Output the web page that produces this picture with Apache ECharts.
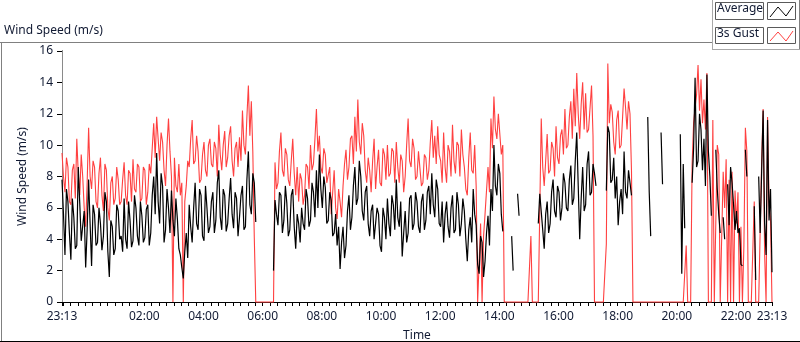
<!DOCTYPE html>
<html>
<head>
<meta charset="utf-8">
<title>Wind Speed (m/s)</title>
<script src="https://cdn.jsdelivr.net/npm/echarts@6/dist/echarts.min.js"></script>
<style>
html, body { margin: 0; padding: 0; background: #fff; }
#main { width: 800px; height: 342px; }
</style>
</head>
<body>
<div id="main"></div>
<script>
// one sample every 3 minutes, starting 23:13 (one row = one hour)
var stepMin = 3;
var startClock = 23 * 60 + 13;

// Average (m/s), null = no data
var average = [
	7.8, 5.6, 3.0, 7.2, 6.4, 4.4, 2.7, 6.6, 5.4, 3.4, 3.6, 8.6, 6.3, 3.9, 4.0, 5.8, 2.2, 4.6, 7.8, 5.0,
	2.3, 6.2, 5.6, 3.6, 3.8, 6.0, 5.0, 3.3, 4.2, 7.0, 6.4, 3.2, 1.6, 5.2, 4.8, 3.0, 3.4, 6.2, 5.8, 4.0,
	4.2, 3.2, 6.6, 4.0, 3.4, 6.4, 5.2, 3.5, 3.9, 6.8, 6.0, 4.2, 3.6, 6.4, 5.5, 3.8, 4.1, 5.9, 6.2, 3.6,
	4.4, 6.8, 8.0, 5.6, 9.5, 6.4, 5.0, 8.2, 7.4, 3.8, 4.6, 7.2, 6.0, 4.4, 7.1, 5.2, 4.2, 6.6, 5.3, 3.4,
	3.0, 2.2, 1.5, 3.2, 4.4, 2.8, 6.2, 4.8, 3.8, 6.0, 7.6, 5.0, 4.6, 7.2, 6.8, 4.2, 3.9, 7.4, 6.0, 4.4,
	4.8, 6.4, 7.0, 4.4, 5.2, 7.6, 8.4, 5.4, 4.6, 7.2, 6.8, 4.5, 5.0, 6.6, 7.9, 5.6, 4.7, 7.0, 6.6, 4.2,
	5.4, 6.8, 7.4, 4.6, 4.8, 7.8, 9.6, 6.2, 5.6, 8.2, 7.6, 5.1, null, null, null, null, null, null, null, null,
	null, null, null, 2.0, 6.5, 5.6, 4.9, 7.0, 6.8, 4.4, 5.2, 7.4, 6.3, 4.2, 4.6, 6.8, 7.2, 4.8, 3.4, 5.6,
	5.0, 3.8, 6.0, 5.0, 4.6, 7.2, 6.6, 4.8, 5.2, 7.6, 7.0, 5.4, 8.4, 6.0, 9.4, 7.2, 6.0, 8.0, 7.3, 5.0,
	5.2, 7.0, 6.5, 4.2, 4.4, 5.6, 3.6, 4.8, 2.1, 3.8, 4.8, 2.8, 3.6, 5.8, 6.8, 4.6, 5.4, 7.4, 8.6, 6.2,
	6.6, 9.0, 8.0, 5.8, 5.2, 7.0, 7.4, 5.0, 4.2, 5.8, 6.2, 4.0, 3.9, 6.0, 5.6, 3.6, 3.2, 6.0, 5.4, 4.0,
	6.6, 5.0, 4.2, 6.8, 6.2, 4.6, 7.8, 5.4, 4.8, 6.4, 2.9, 4.4, 5.8, 3.8, 4.4, 6.6, 6.8, 4.6, 5.0, 7.0,
	6.4, 4.8, 4.4, 6.4, 6.9, 4.6, 5.2, 7.0, 7.4, 5.6, 8.2, 6.2, 5.4, 7.8, 7.2, 5.0, 4.8, 6.4, 3.8, 5.6,
	6.4, 4.8, 4.1, 6.0, 6.8, 4.4, 4.6, 7.0, 6.2, 4.2, 5.0, 6.6, 5.8, 4.0, 2.6, 4.6, 5.4, 3.8, 7.2, 5.6,
	4.9, 2.4, 1.8, 4.2, 3.8, 1.6, 2.6, 4.4, 5.5, 3.6, 7.2, 5.8, 10.0, 7.4, 6.8, 8.8, 8.2, 5.6, 4.5, null,
	null, null, null, null, 4.2, 2.0, null, null, 6.9, 5.5, null, null, null, null, null, null, null, null, null, null,
	null, null, 5.0, 6.9, 6.8, 4.6, 3.4, 5.6, 6.4, 4.4, 5.0, 7.0, 7.8, 5.8, 5.4, 7.4, 7.0, 5.2, 6.0, 8.2,
	7.6, 6.0, 5.8, 7.8, 8.7, 6.2, 6.6, 9.0, 10.8, 7.4, 4.0, 6.6, 8.6, 5.8, 6.2, 8.8, 9.6, 6.8, 7.0, 8.8,
	8.2, 7.4, null, null, null, null, null, null, 7.1, 11.2, 10.8, 7.6, 7.8, 9.2, 6.6, 8.0, 4.9, 6.4, 7.2, 5.6,
	9.6, 7.0, 6.6, 8.4, 7.6, 6.8, null, null, null, null, null, null, null, null, null, null, 11.8, 7.0, 4.2, null,
	null, null, null, null, null, 10.8, 7.5, null, null, null, null, null, null, null, null, null, null, null, 10.7, 1.8,
	8.8, 4.7, null, null, null, null, 7.6, 9.8, 14.3, 8.6, 9.0, 12.0, 11.0, 8.4, 10.4, 7.4, 14.5, 9.6, 8.0, 5.5,
	null, null, 9.7, 7.2, 5.6, 4.4, null, 5.4, 4.0, null, 7.5, 4.9, 8.6, 7.6, 6.2, 4.6, 5.8, 4.4, 4.7, 2.4,
	2.3, null, 9.7, 8.0, null, null, null, null, 6.1, 1.4, null, 8.0, 4.4, 8.3, 12.2, 5.0, 3.0, 11.6, 5.2, 7.2,
	1.9
];

// 3s Gust (m/s)
var gust = [
	9.5, 8.0, 7.0, 9.2, 8.6, 6.4, 6.2, 8.4, 8.8, 6.6, 10.4, 8.2, 6.8, 9.4, 8.0, 6.0, 4.8, 7.6, 11.1, 8.0,
	7.2, 9.0, 8.6, 6.4, 6.0, 8.2, 9.2, 6.8, 5.8, 8.8, 8.4, 6.0, 5.2, 7.6, 8.0, 6.2, 6.6, 8.6, 7.8, 6.2,
	6.4, 7.8, 8.9, 6.8, 6.2, 8.4, 8.2, 6.4, 9.1, 7.2, 7.0, 8.8, 8.6, 6.4, 6.6, 8.6, 8.4, 6.2, 7.0, 8.8,
	8.2, 9.8, 11.4, 9.2, 11.8, 10.4, 9.0, 10.8, 10.2, 8.4, 7.4, 10.0, 11.7, 9.6, 8.0, 0, 9.2, 7.4, 7.0, 8.8,
	6.8, 7.6, 0, 6.4, 7.4, 9.0, 8.6, 10.4, 11.6, 8.8, 9.0, 10.6, 9.6, 7.6, 7.8, 9.4, 10.2, 8.4, 8.0, 10.0,
	10.4, 8.8, 8.6, 10.2, 9.8, 8.0, 11.3, 9.4, 8.4, 10.0, 10.9, 8.6, 9.2, 10.6, 11.2, 9.0, 8.0, 9.8, 10.2, 8.6,
	10.5, 9.0, 12.2, 10.0, 9.4, 11.8, 13.8, 10.6, 12.8, 9.6, 4.1, 0, 0, 0, 0, 0, 0, 0, 0, 0,
	0, 0, 0, 0, 8.9, 7.2, 7.6, 9.6, 10.8, 8.4, 8.0, 9.8, 9.4, 7.8, 7.4, 9.0, 10.4, 8.2, 6.8, 8.6,
	6.4, 8.2, 7.8, 6.2, 6.8, 8.8, 8.6, 7.2, 10.0, 8.4, 8.8, 10.4, 12.3, 9.6, 10.6, 8.6, 8.2, 9.8, 9.4, 7.6,
	7.6, 8.6, 5.6, 7.0, 8.4, 6.0, 5.3, 7.2, 6.4, 5.4, 7.4, 8.8, 9.7, 7.8, 8.6, 10.4, 10.6, 8.8, 11.8, 9.6,
	12.9, 10.2, 9.4, 11.4, 10.6, 8.4, 7.6, 9.2, 8.4, 7.0, 9.0, 10.4, 7.2, 8.6, 9.7, 7.6, 7.4, 9.8, 9.4, 7.8,
	10.0, 8.0, 8.2, 9.8, 9.6, 7.6, 10.2, 8.6, 7.6, 9.4, 9.0, 7.0, 8.0, 10.0, 11.7, 9.0, 8.6, 10.4, 9.8, 7.8,
	8.0, 9.6, 9.7, 7.4, 7.6, 9.4, 9.2, 7.8, 8.4, 10.2, 11.6, 9.2, 10.6, 8.8, 11.2, 9.4, 9.0, 7.6, 10.8, 8.6,
	7.6, 10.0, 9.6, 8.0, 11.3, 9.0, 8.2, 10.2, 10.0, 8.0, 11.0, 9.4, 8.6, 7.2, 6.8, 9.2, 10.8, 8.4, 8.2, 10.0,
	7.4, 0, 0, 5.0, 0, 4.2, 5.6, 5.5, 8.6, 7.0, 11.7, 9.8, 13.1, 11.0, 10.4, 12.0, 11.9, 9.4, 10.0, 0,
	0, 0, 0, 0, 0, 0, 0, 0, 0, 0, 0, 0, 0, 0, 0, 0, 0, 4.2, 0, 0,
	0, 0, 0, 0, 11.7, 8.6, 7.4, 9.0, 10.7, 8.2, 8.4, 10.2, 9.8, 8.0, 11.2, 9.2, 8.8, 10.6, 11.0, 9.4,
	12.3, 9.8, 10.0, 11.8, 12.8, 10.4, 13.6, 11.2, 14.6, 12.0, 10.4, 12.6, 14.0, 11.0, 13.3, 10.8, 11.0, 12.4, 13.8, 10.6,
	0, 0, 0, 0, 0, 0, 0, 0, 3.7, 15.2, 11.4, 12.6, 12.1, 10.2, 9.4, 11.6, 12.2, 9.8, 10.0, 11.8,
	13.6, 12.4, 11.0, 12.8, 12.0, 8.4, 0, 0, 0, 0, 0, 0, 0, 0, 0, 0, 0, 0, 0, 0,
	0, 0, 0, 0, 0, 0, 0, 0, 0, 0, 0, 0, 0, 0, 0, 0, 0, 0, 0, 0,
	0, 0, 3.6, 0, 0, 0, 8.8, 11.4, 12.4, 13.2, 15.1, 12.2, 14.2, 11.4, 12.9, 11.0, 14.6, 0, 0, 0,
	11.6, 0, 0, 10.0, 9.4, 0, 0, 8.3, 6.0, 9.1, 0, 7.8, 0, 8.3, 0, 7.1, 5.0, 7.0, 0, 4.8,
	0, 3.6, 11.1, 9.6, 0, 0, 0, 0, 6.4, 0, 0, 0, 0, 9.0, 12.3, 3.1, 0, 11.8, 6.4, 5.2,
	0
];

// x axis labels, minutes after 23:13
var labelMinutes = [0, 167, 287, 407, 527, 647, 767, 887, 1007, 1127, 1247, 1367, 1440];
var totalMinutes = 1440;

function pad(n) {
	return (n < 10 ? '0' : '') + n;
}
function clock(m) {
	var t = (startClock + m) % 1440;
	return pad(Math.floor(t / 60)) + ':' + pad(t % 60);
}

// small ticks every quarter hour
var tickMinutes = [0];
for (var m = 2; m < totalMinutes; m += 15) tickMinutes.push(m);
tickMinutes.push(totalMinutes);

var txt = '#111a33';
var fontFamily = '"Noto Sans", "DejaVu Sans", sans-serif';

var myChart = echarts.init(document.getElementById('main'));
var option = {
	animation: false,
	backgroundColor: '#fff',
	textStyle: { fontFamily: fontFamily },
	grid: { left: 62, top: 51, width: 710, height: 251, containLabel: false, outerBoundsMode: 'none' },
	xAxis: [{
		type: 'value',
		min: 0,
		max: totalMinutes,
		name: 'Time',
		nameLocation: 'middle',
		nameGap: 28,
		nameTextStyle: { color: txt, fontSize: 12, fontFamily: fontFamily },
		splitLine: { show: false },
		axisLine: { lineStyle: { color: '#6e6e6e', width: 1 } },
		axisTick: { show: true, length: 4, customValues: tickMinutes, lineStyle: { color: '#000' } },
		axisLabel: {
			customValues: labelMinutes,
			margin: 9,
			color: txt,
			fontSize: 12,
			fontFamily: fontFamily,
			formatter: function (v) { return clock(v); }
		}
	}, {
		type: 'value',
		position: 'top',
		min: 0,
		max: totalMinutes,
		axisLine: { show: true, lineStyle: { color: '#000' } },
		axisTick: { show: false },
		axisLabel: { show: false },
		splitLine: { show: false }
	}],
	yAxis: [{
		type: 'value',
		min: 0,
		max: 16,
		interval: 2,
		name: 'Wind Speed (m/s)',
		nameLocation: 'middle',
		nameGap: 30,
		nameTextStyle: { color: txt, fontSize: 12, fontFamily: fontFamily },
		splitLine: { show: false },
		axisLine: { show: true, lineStyle: { color: '#000' } },
		axisTick: { show: true, length: 5, lineStyle: { color: '#000' } },
		axisLabel: { margin: 9, color: txt, fontSize: 12, fontFamily: fontFamily }
	}, {
		type: 'value',
		position: 'right',
		min: 0,
		max: 16,
		interval: 2,
		axisLine: { show: true, lineStyle: { color: '#8a8a8a' } },
		axisTick: { show: false },
		axisLabel: { show: false },
		splitLine: { show: false }
	}],
	series: [{
		name: '3s Gust',
		type: 'line',
		showSymbol: false,
		clip: false,
		connectNulls: false,
		lineStyle: { color: '#ff4040', width: 1.1 },
		data: gust.map(function (v, i) { return [i * stepMin, v]; })
	}, {
		name: 'Average',
		type: 'line',
		showSymbol: false,
		clip: false,
		connectNulls: false,
		lineStyle: { color: '#000', width: 1.2 },
		data: average.map(function (v, i) { return [i * stepMin, v]; })
	}],
	graphic: [
		// chart title and frame
		{ type: 'text', left: 4, top: 25, style: { text: 'Wind Speed (m/s)', fill: txt, font: '12px ' + fontFamily } },
		{ type: 'line', shape: { x1: 0, y1: 42.5, x2: 712, y2: 42.5 }, style: { stroke: '#808080', lineWidth: 1 } },
		{ type: 'line', shape: { x1: 1.5, y1: 42, x2: 1.5, y2: 342 }, style: { stroke: '#808080', lineWidth: 1 } },
		{ type: 'line', shape: { x1: 0, y1: 341.5, x2: 800, y2: 341.5 }, style: { stroke: '#000', lineWidth: 1 } },
		// legend frame
		{ type: 'line', shape: { x1: 712.5, y1: 0, x2: 712.5, y2: 49 }, style: { stroke: '#a8a8a8', lineWidth: 1 } },
		{ type: 'line', shape: { x1: 712, y1: 49.5, x2: 800, y2: 49.5 }, style: { stroke: '#a8a8a8', lineWidth: 1 } },
		{ type: 'line', shape: { x1: 799.5, y1: 0, x2: 799.5, y2: 49 }, style: { stroke: '#808080', lineWidth: 1 } },
		{ type: 'rect', shape: { x: 715.5, y: 2.5, width: 48, height: 17 }, style: { fill: '#fff', stroke: '#5a5a5a', lineWidth: 1 } },
		{ type: 'rect', shape: { x: 767.5, y: 2.5, width: 28, height: 17 }, style: { fill: '#fff', stroke: '#5a5a5a', lineWidth: 1 } },
		{ type: 'rect', shape: { x: 715.5, y: 27.5, width: 48, height: 16 }, style: { fill: '#fff', stroke: '#5a5a5a', lineWidth: 1 } },
		{ type: 'rect', shape: { x: 767.5, y: 27.5, width: 28, height: 16 }, style: { fill: '#fff', stroke: '#5a5a5a', lineWidth: 1 } },
		{ type: 'text', left: 717, top: 3, style: { text: 'Average', fill: txt, font: '12px ' + fontFamily } },
		{ type: 'text', left: 717, top: 28, style: { text: '3s Gust', fill: txt, font: '12px ' + fontFamily } },
		{ type: 'polyline', shape: { points: [[770, 17], [778, 7], [786, 16], [793, 6]] }, style: { stroke: '#000', lineWidth: 1, fill: null } },
		{ type: 'polyline', shape: { points: [[770, 41], [778, 32], [786, 41], [793, 31]] }, style: { stroke: '#ff4040', lineWidth: 1, fill: null } }
	]
};
myChart.setOption(option);
</script>
</body>
</html>
